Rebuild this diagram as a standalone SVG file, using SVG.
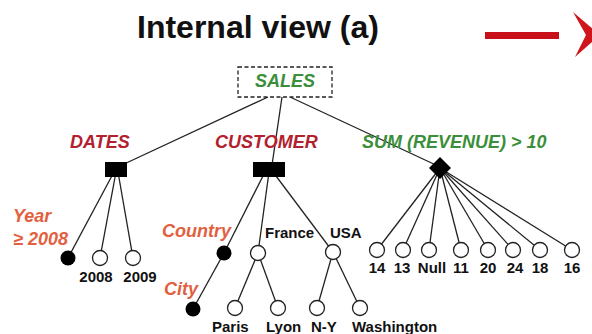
<svg xmlns="http://www.w3.org/2000/svg" width="592" height="334" viewBox="0 0 592 334">
  <style>
    text { font-family: "Liberation Sans", Arial, sans-serif; font-weight: bold; }
    .title { font-size: 32px; fill: #111; }
    .dim { font-size: 18px; font-style: italic; fill: #b3202e; }
    .meas { font-size: 18px; font-style: italic; fill: #3b8f3b; }
    .lvl { font-size: 18px; font-style: italic; fill: #e2603e; }
    .leaf { font-size: 15px; fill: #111; }
    .edge { stroke: #222; stroke-width: 1.3; fill: none; }
    .open { fill: #fff; stroke: #222; stroke-width: 1.3; }
    .full { fill: #000; }
  </style>

  <rect width="592" height="334" fill="#fff"/>

  <!-- heading -->
  <text class="title" x="137" y="38">Internal view (a)</text>

  <!-- red arrow -->
  <g id="arrow">
    <rect x="485" y="32" width="74" height="7" fill="#c8101a"/>
    <polygon points="573,12 600,35 575,57 586,35" fill="#d0141c"/>
  </g>

  <!-- connectors -->
  <g id="connectors" class="edge">
    <!-- root to dimensions / measure -->
    <line x1="268" y1="97" x2="122" y2="165"/>
    <line x1="282" y1="97" x2="272" y2="165"/>
    <line x1="290" y1="97" x2="438" y2="166"/>
    <!-- DATES -->
    <line x1="114" y1="172" x2="68" y2="258"/>
    <line x1="116" y1="172" x2="100" y2="258"/>
    <line x1="118" y1="172" x2="133" y2="258"/>
    <!-- CUSTOMER -->
    <line x1="265" y1="172" x2="224" y2="253"/>
    <line x1="269" y1="172" x2="258" y2="253"/>
    <line x1="273" y1="172" x2="333" y2="252"/>
    <line x1="224" y1="253" x2="193" y2="309"/>
    <line x1="258" y1="253" x2="235" y2="308"/>
    <line x1="258" y1="253" x2="278" y2="308"/>
    <line x1="333" y1="252" x2="317" y2="308"/>
    <line x1="333" y1="252" x2="360" y2="308"/>
    <!-- SUM (REVENUE) -->
    <line x1="440" y1="168" x2="377" y2="250"/>
    <line x1="440" y1="168" x2="403" y2="250"/>
    <line x1="440" y1="168" x2="429" y2="250"/>
    <line x1="440" y1="168" x2="461" y2="250"/>
    <line x1="440" y1="168" x2="488" y2="250"/>
    <line x1="440" y1="168" x2="513" y2="250"/>
    <line x1="440" y1="168" x2="540" y2="250"/>
    <line x1="440" y1="168" x2="572" y2="250"/>
  </g>

  <!-- root -->
  <g id="sales">
    <rect x="238" y="67" width="94" height="30" fill="#fff" stroke="#222" stroke-width="1.3" stroke-dasharray="4,2.5"/>
    <text class="meas" x="285" y="87" text-anchor="middle">SALES</text>
  </g>

  <!-- DATES dimension -->
  <g id="dates">
    <text class="dim" x="70" y="148">DATES</text>
    <rect x="105" y="162" width="22" height="15" class="full"/>
  </g>
  <g id="year">
    <text class="lvl" x="13" y="222">Year</text>
    <text class="lvl" x="13" y="245">≥ 2008</text>
    <circle cx="68" cy="258" r="7.5" class="full"/>
  </g>
  <g id="y2008">
    <circle cx="100" cy="258" r="7.5" class="open"/>
    <text class="leaf" x="96" y="282" text-anchor="middle">2008</text>
  </g>
  <g id="y2009">
    <circle cx="133" cy="258" r="7.5" class="open"/>
    <text class="leaf" x="140" y="282" text-anchor="middle">2009</text>
  </g>

  <!-- CUSTOMER dimension -->
  <g id="customer">
    <text class="dim" x="215" y="148">CUSTOMER</text>
    <rect x="253" y="162" width="32" height="15" class="full"/>
  </g>
  <g id="country">
    <text class="lvl" x="162" y="237">Country</text>
    <circle cx="224" cy="253" r="7.5" class="full"/>
  </g>
  <g id="france">
    <circle cx="258" cy="253" r="7.5" class="open"/>
    <text class="leaf" x="265" y="238">France</text>
  </g>
  <g id="usa">
    <circle cx="333" cy="252" r="7.5" class="open"/>
    <text class="leaf" x="330" y="238">USA</text>
  </g>
  <g id="city">
    <text class="lvl" x="164" y="295">City</text>
    <circle cx="193" cy="309" r="7.5" class="full"/>
  </g>
  <g id="paris">
    <circle cx="235" cy="308" r="7.5" class="open"/>
    <text class="leaf" x="212" y="332">Paris</text>
  </g>
  <g id="lyon">
    <circle cx="278" cy="308" r="7.5" class="open"/>
    <text class="leaf" x="266" y="332">Lyon</text>
  </g>
  <g id="newyork">
    <circle cx="317" cy="308" r="7.5" class="open"/>
    <text class="leaf" x="311" y="332">N-Y</text>
  </g>
  <g id="washington">
    <circle cx="360" cy="308" r="7.5" class="open"/>
    <text class="leaf" x="352" y="332">Washington</text>
  </g>

  <!-- measure -->
  <g id="revenue">
    <text class="meas" x="362" y="148">SUM (REVENUE) &gt; 10</text>
    <polygon points="440,157 451,168 440,179 429,168" class="full"/>
  </g>
  <g id="v14"><circle cx="377" cy="250" r="7.5" class="open"/><text class="leaf" x="377" y="273" text-anchor="middle">14</text></g>
  <g id="v13"><circle cx="403" cy="250" r="7.5" class="open"/><text class="leaf" x="402" y="273" text-anchor="middle">13</text></g>
  <g id="vnull"><circle cx="429" cy="250" r="7.5" class="open"/><text class="leaf" x="432" y="273" text-anchor="middle">Null</text></g>
  <g id="v11"><circle cx="461" cy="250" r="7.5" class="open"/><text class="leaf" x="461" y="273" text-anchor="middle">11</text></g>
  <g id="v20"><circle cx="488" cy="250" r="7.5" class="open"/><text class="leaf" x="488" y="273" text-anchor="middle">20</text></g>
  <g id="v24"><circle cx="513" cy="250" r="7.5" class="open"/><text class="leaf" x="515" y="273" text-anchor="middle">24</text></g>
  <g id="v18"><circle cx="540" cy="250" r="7.5" class="open"/><text class="leaf" x="540" y="273" text-anchor="middle">18</text></g>
  <g id="v16"><circle cx="572" cy="250" r="7.5" class="open"/><text class="leaf" x="572" y="273" text-anchor="middle">16</text></g>
</svg>
